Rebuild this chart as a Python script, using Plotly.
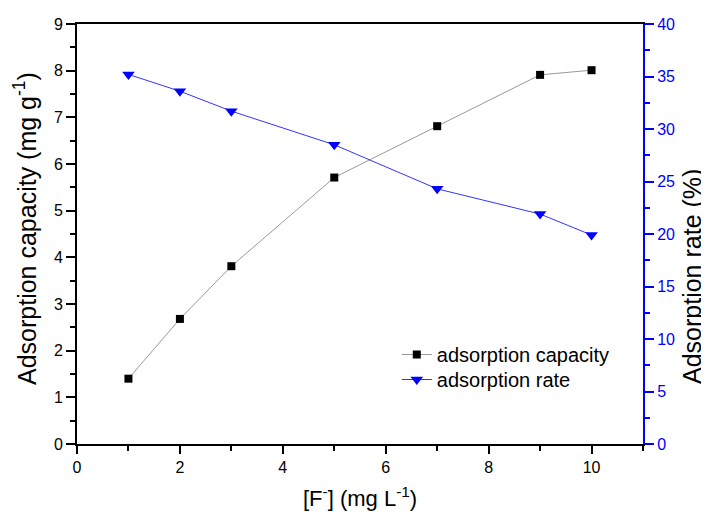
import plotly.graph_objects as go

conc = [1, 2, 3, 5, 7, 9, 10]
capacity = [1.40, 2.68, 3.81, 5.71, 6.81, 7.91, 8.01]
rate = [35.2, 33.6, 31.7, 28.5, 24.3, 21.9, 19.9]

x_title = "[F<sup>-</sup>] (mg L<sup>-1</sup>)"
y_title = "Adsorption capacity (mg g<sup>-1</sup>)"
y2_title = "Adsorption rate (%)"

FONT = "Liberation Sans, Arial, sans-serif"

fig = go.Figure()
fig.add_trace(go.Scatter(
    x=conc, y=capacity, name="adsorption capacity", mode="lines+markers",
    line=dict(color="#9a9a9a", width=1),
    marker=dict(symbol="square", size=8, color="black"),
    legend="legend",
))
fig.add_trace(go.Scatter(
    x=conc, y=rate, name="adsorption rate", mode="lines+markers", yaxis="y2",
    line=dict(color="#3333ff", width=1),
    marker=dict(symbol="triangle-down", size=11, color="#0000ff"),
    legend="legend2",
))
fig.add_trace(go.Scatter(x=[0], y=[0], xaxis="x2", mode="markers", marker=dict(opacity=0),
                         showlegend=False, hoverinfo="skip"))

leg_common = dict(xanchor="left", yanchor="top", bgcolor="rgba(0,0,0,0)",
                  font=dict(size=20, color="black"))

fig.update_layout(
    width=701, height=509,
    margin=dict(l=69, r=66, t=16, b=73),
    paper_bgcolor="white", plot_bgcolor="white",
    font=dict(family=FONT, size=16, color="black"),
    showlegend=True,
    legend=dict(x=0.565, y=0.2595, **leg_common),
    legend2=dict(x=0.565, y=0.20, **leg_common),
    xaxis=dict(
        range=[0, 11], dtick=2, tick0=0, showgrid=False, zeroline=False, automargin=False,
        showline=True, linecolor="black", linewidth=2,
        ticks="outside", ticklen=8, tickwidth=2, tickcolor="black",
        minor=dict(dtick=1, ticks="outside", ticklen=5, tickwidth=2, tickcolor="black"),
    ),
    xaxis2=dict(overlaying="x", side="top", range=[0, 11], showline=True, linecolor="black",
                linewidth=2, showticklabels=False, ticks="", showgrid=False, zeroline=False,
                automargin=False),
    yaxis=dict(
        range=[0, 9], dtick=1, showgrid=False, zeroline=False, automargin=False,
        showline=True, linecolor="black", linewidth=2,
        ticks="outside", ticklen=9, tickwidth=2, tickcolor="black",
        minor=dict(dtick=0.5, ticks="outside", ticklen=5, tickwidth=2, tickcolor="black"),
    ),
    yaxis2=dict(
        range=[0, 40], dtick=5, overlaying="y", side="right", showgrid=False, zeroline=False,
        automargin=False,
        showline=True, linecolor="#0000ff", linewidth=2,
        ticks="outside", ticklen=9, tickwidth=2, tickcolor="#0000ff",
        tickfont=dict(color="#0000ff"),
        minor=dict(dtick=2.5, ticks="outside", ticklen=5, tickwidth=2, tickcolor="#0000ff"),
    ),
    annotations=[
        dict(text=x_title, xref="paper", yref="paper", x=0.5, y=0, xanchor="center",
             yanchor="middle", yshift=-53, showarrow=False, font=dict(size=22)),
        dict(text=y_title, xref="paper", yref="paper", x=0, y=0.5, xanchor="center",
             yanchor="middle", xshift=-52, yshift=5, textangle=-90, showarrow=False,
             font=dict(size=25)),
        dict(text=y2_title, xref="paper", yref="paper", x=1, y=0.5, xanchor="center",
             yanchor="middle", xshift=49, yshift=-43, textangle=-90, showarrow=False,
             font=dict(size=25)),
    ],
)

fig.write_html("out.html")
